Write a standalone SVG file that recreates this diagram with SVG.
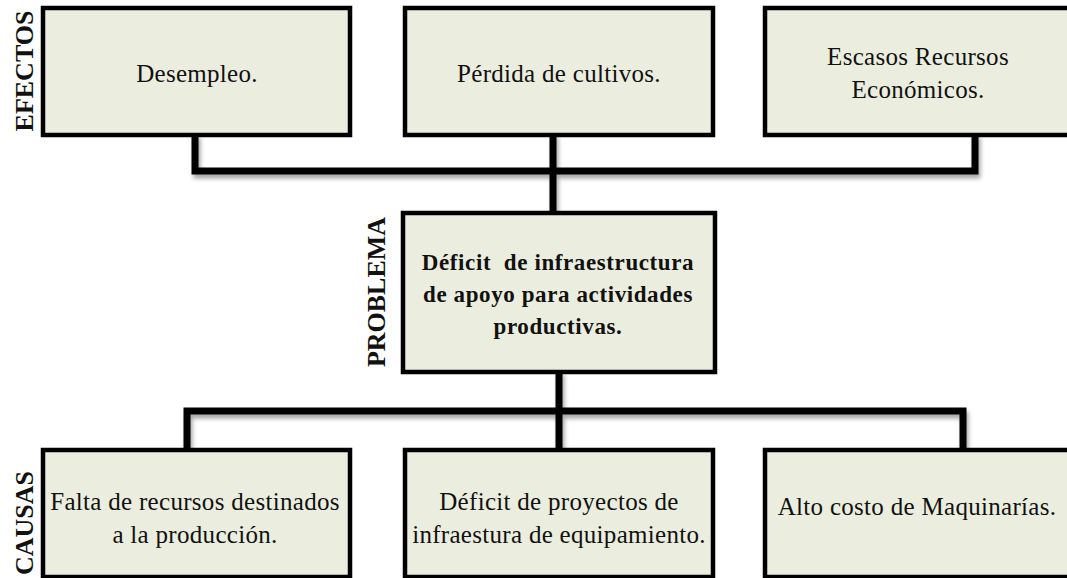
<svg xmlns="http://www.w3.org/2000/svg" width="1067" height="578" viewBox="0 0 1067 578">
<defs>
<filter id="sh" x="-10%" y="-50%" width="120%" height="200%">
<feDropShadow dx="2" dy="4" stdDeviation="2" flood-color="#000" flood-opacity="0.35"/>
</filter>
</defs>
<style>
.box{fill:#EBEEDF;stroke:#000;stroke-width:4.5}
.ln{fill:none;stroke:#000;stroke-width:7;stroke-linejoin:miter;stroke-linecap:square}
.t{font-family:"Liberation Serif","Times New Roman",serif;font-size:25px;letter-spacing:0.3px;fill:#111;text-anchor:middle}
.b{font-family:"Liberation Serif","Times New Roman",serif;font-size:23px;letter-spacing:0.6px;font-weight:bold;fill:#111;text-anchor:middle}
.side{font-family:"Liberation Serif","Times New Roman",serif;font-size:26px;font-weight:bold;fill:#111;text-anchor:middle}
</style>
<rect width="1067" height="578" fill="#fff"/>
<g id="connectors" filter="url(#sh)">
<path class="ln" d="M195,137 V171 H975 V137"/>
<path class="ln" d="M553,137 V211"/>
<path class="ln" d="M559,374 V448"/>
<path class="ln" d="M187,448 V411 H963 V448"/>
</g>
<g id="label-efectos"><text class="side" transform="translate(33,71) rotate(-90)">EFECTOS</text></g>
<g id="label-problema"><text class="side" transform="translate(385,292) rotate(-90)">PROBLEMA</text></g>
<g id="label-causas"><text class="side" transform="translate(33,523) rotate(-90)">CAUSAS</text></g>
<g id="e1"><rect class="box" x="43" y="8" width="307" height="127"/><text class="t" x="197" y="82">Desempleo.</text></g>
<g id="e2"><rect class="box" x="405" y="8" width="308" height="127"/><text class="t" x="559" y="82">Pérdida de cultivos.</text></g>
<g id="e3"><rect class="box" x="765" y="8" width="310" height="127"/><text class="t" x="918" y="65">Escasos Recursos</text><text class="t" x="918" y="98">Económicos.</text></g>
<g id="problema"><rect class="box" x="403" y="213" width="312" height="159"/><text class="b" x="558" y="270">Déficit&#160; de infraestructura</text><text class="b" x="558" y="302">de apoyo para actividades</text><text class="b" x="558" y="334">productivas.</text></g>
<g id="c1"><rect class="box" x="43" y="450" width="307" height="127"/><text class="t" x="195" y="510">Falta de recursos destinados</text><text class="t" x="195" y="543">a la producción.</text></g>
<g id="c2"><rect class="box" x="405" y="450" width="308" height="127"/><text class="t" x="559" y="510">Déficit de proyectos de</text><text class="t" x="559" y="543">infraestura de equipamiento.</text></g>
<g id="c3"><rect class="box" x="765" y="450" width="310" height="127"/><text class="t" x="917" y="515">Alto costo de Maquinarías.</text></g>
</svg>
